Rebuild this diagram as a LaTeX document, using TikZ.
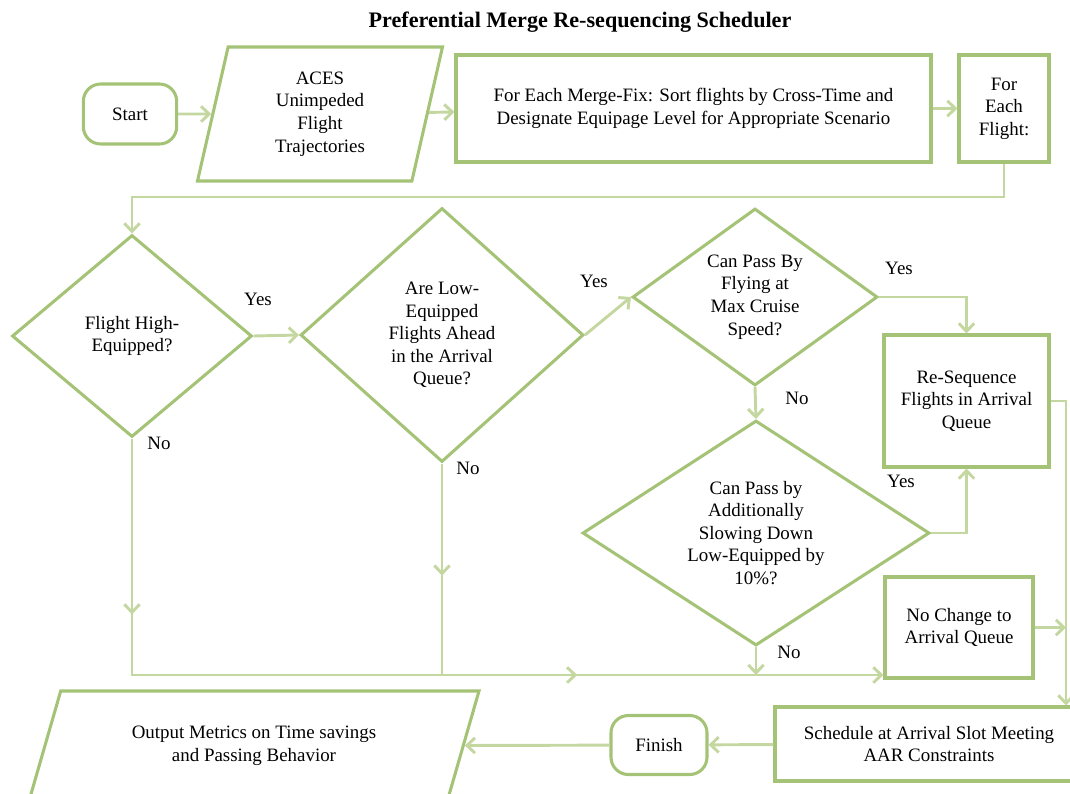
\documentclass[tikz,border=0pt]{standalone}
\usepackage{fontspec}
\setmainfont{Liberation Serif}
\usepackage{tikz}
\usetikzlibrary{shapes.geometric}
\usetikzlibrary{arrows.meta}
\usetikzlibrary{decorations.markings}
\definecolor{boxgreen}{HTML}{A5C377}
\definecolor{linegreen}{HTML}{C4D7A0}
\newcommand{\flowfont}{\fontsize{14.2}{16.9}\selectfont}
\tikzstyle{terminal}=[rectangle,rounded corners=13pt,draw=boxgreen,line width=2.3pt,inner sep=0mm,align=center,font=\flowfont]
\tikzstyle{process}=[rectangle,draw=boxgreen,line width=2.3pt,inner sep=0mm,align=center,font=\flowfont]
\tikzstyle{decision}=[diamond,draw=boxgreen,line width=2.3pt,inner sep=0mm,align=center,font=\flowfont]
\tikzstyle{io}=[trapezium,trapezium stretches body,draw=boxgreen,line width=2.3pt,inner sep=0mm,align=center,font=\flowfont]
\tikzstyle{answer}=[inner sep=0mm,font=\flowfont]
\tikzstyle{heading}=[inner sep=0mm,font=\bfseries\fontsize{16.6}{19}\selectfont]
\tikzstyle{link}=[draw=linegreen,line width=2.2pt]
\tikzstyle{flow}=[link,->,>={Straight Barb[length=6pt,width=11.5pt]}]
\tikzset{marrow/.style={postaction={decorate,decoration={markings,mark=at position #1 with {\arrow[linegreen]{Straight Barb[length=6pt,width=11.5pt]}}}}}}

\begin{document}
\begin{tikzpicture}[x=0.75pt,y=-0.75pt]
    \useasboundingbox (0,0) rectangle (1070,793);
    \node[heading] at (580,22) (title) {Preferential Merge Re-sequencing Scheduler};
    \node[terminal,minimum width=70pt,minimum height=45pt] at (130,114) (start) {Start};
    \node[io,trapezium left angle=70,trapezium right angle=110,minimum width=183.75pt,minimum height=100.5pt] at (320,114) (aces) {ACES\\Unimpeded\\Flight\\Trajectories};
    \node[process,minimum width=356.25pt,minimum height=80.25pt] at (693.5,108.5) (mf) {For Each Merge-Fix: Sort flights by Cross-Time and\\Designate Equipage Level for Appropriate Scenario};
    \node[process,minimum width=67.5pt,minimum height=80.25pt] at (1004,108.5) (fef) {For\\Each\\Flight:};
    \node[decision,aspect=1,minimum width=180pt,minimum height=151.5pt] at (132,336) (d1) {Flight High-\\Equipped?};
    \node[decision,aspect=1.1,minimum width=212.25pt,minimum height=190.5pt] at (442,335) (d2) {Are Low-\\Equipped\\Flights Ahead\\in the Arrival\\Queue?};
    \node[decision,aspect=1.4,minimum width=183.75pt,minimum height=132.75pt] at (755,297) (d3) {Can Pass By\\Flying at\\Max Cruise\\Speed?};
    \node[decision,aspect=1.55,minimum width=260.25pt,minimum height=168.75pt] at (756,533) (d4) {Can Pass by\\Additionally\\Slowing Down\\Low-Equipped by\\10\%?};
    \node[process,minimum width=123.75pt,minimum height=99pt] at (966.5,401) (rs) {Re-Sequence\\Flights in Arrival\\Queue};
    \node[process,minimum width=111pt,minimum height=75.75pt] at (959,627.5) (nc) {No Change to\\Arrival Queue};
    \node[process,minimum width=231pt,minimum height=55.5pt] at (929,744) (sched) {Schedule at Arrival Slot Meeting\\AAR Constraints};
    \node[terminal,minimum width=72pt,minimum height=44.25pt] at (659,745) (finish) {Finish};
    \node[io,trapezium left angle=51,trapezium right angle=129,minimum width=337.5pt,minimum height=82.5pt] at (254,746) (out) {Output Metrics on Time savings\\and Passing Behavior};
    \coordinate (loopback) at (0,197);
    \coordinate (base) at (0,675);
    \coordinate (rline) at (1066,0);
    \draw[flow] (start) -- (aces);
    \draw[flow] (aces) -- (mf);
    \draw[flow] (mf) -- (fef);
    \draw[flow] (fef.south) |- (d1.north |- loopback) -- (d1.north);
    \draw[flow] (d1.east) -- (d2.west);
    \draw[flow] (d2.east) -- (d3.west);
    \draw[flow] (d3.east) -| (rs.north);
    \draw[flow] (d3.south) -- (d4.north);
    \draw[flow] (d4.east) -| (rs.south);
    \draw[flow] (rs.east) -| (rline |- sched.north);
    \draw[flow] (nc.east) -- (nc.east -| rline);
    \draw[flow,marrow=0.178,marrow=0.69] (d1.south) |- (base -| nc.west);
    \draw[link,marrow=0.53] (d2.south) -- (d2.south |- base);
    \draw[flow] (d4.south) -- (d4.south |- base);
    \draw[flow] (sched) -- (finish);
    \draw[flow] (finish) -- (out);
    \node[answer] at (258,299) (yes1) {Yes};
    \node[answer] at (159,443) (no1) {No};
    \node[answer] at (594,281) (yes2) {Yes};
    \node[answer] at (468,468) (no2) {No};
    \node[answer] at (899,268) (yes3) {Yes};
    \node[answer] at (797,398) (no3) {No};
    \node[answer] at (901,481) (yes4) {Yes};
    \node[answer] at (789,652) (no4) {No};
\end{tikzpicture}
\end{document}
